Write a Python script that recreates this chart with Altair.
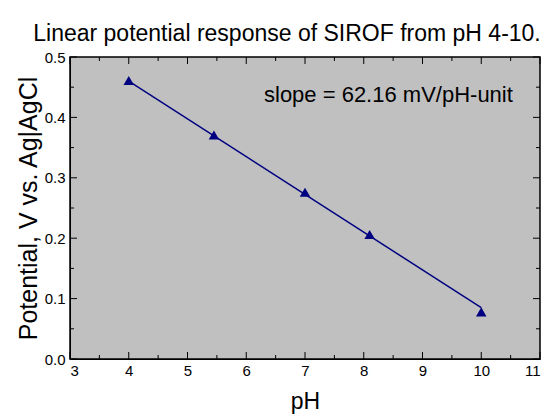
import altair as alt
import pandas as pd

# data
ph = [4.0, 5.45, 7.0, 8.1, 10.0]
potential = [0.461, 0.371, 0.276, 0.206, 0.078]
fit_ph = [4.0, 10.0]
fit_potential = [0.460, 0.085]
x_major = [3, 4, 5, 6, 7, 8, 9, 10, 11]
x_minor = [3.5, 4.5, 5.5, 6.5, 7.5, 8.5, 9.5, 10.5]
y_major = [0.0, 0.1, 0.2, 0.3, 0.4, 0.5]
y_minor = [0.05, 0.15, 0.25, 0.35, 0.45]
note_text = ["slope = 62.16 mV/pH-unit"]
note_x = [8.42]
note_y = [0.437]

W, H = 470, 302
FONT = "Liberation Sans"
NAVY = "#000080"

pts = pd.DataFrame({"pH": ph, "V": potential})
fit = pd.DataFrame({"pH": fit_ph, "V": fit_potential})
xm = pd.DataFrame({"t": x_major})
xn = pd.DataFrame({"t": x_minor})
ym = pd.DataFrame({"t": y_major})
yn = pd.DataFrame({"t": y_minor})
note = pd.DataFrame({"pH": note_x, "V": note_y, "text": note_text})

xscale = alt.Scale(domain=[3, 11], nice=False, zero=False)
yscale = alt.Scale(domain=[0, 0.5], nice=False, zero=False)

xaxis = alt.Axis(values=x_major, format="d", grid=False, ticks=False,
                 domainColor="black", labelColor="black", labelFont=FONT,
                 labelFontSize=15, labelPadding=4, title="pH",
                 titleFont=FONT, titleFontSize=23, titleFontWeight="normal",
                 titleColor="black", titlePadding=12)
yaxis = alt.Axis(values=y_major, format=".1f", grid=False, ticks=False,
                 domainColor="black", labelColor="black", labelFont=FONT,
                 labelFontSize=15, labelPadding=5,
                 title="Potential, V vs. Ag|AgCl",
                 titleFont=FONT, titleFontSize=25, titleFontWeight="normal",
                 titleColor="black", titlePadding=3)

line = alt.Chart(fit).mark_line(color=NAVY, strokeWidth=1.5).encode(
    x=alt.X("pH:Q", scale=xscale, axis=xaxis),
    y=alt.Y("V:Q", scale=yscale, axis=yaxis),
)
points = alt.Chart(pts).mark_point(shape="triangle-up", filled=True, color=NAVY,
                                   opacity=1, size=110).encode(
    x=alt.X("pH:Q", scale=xscale),
    y=alt.Y("V:Q", scale=yscale),
)
text = alt.Chart(note).mark_text(font=FONT, fontSize=22, color="black").encode(
    x=alt.X("pH:Q", scale=xscale),
    y=alt.Y("V:Q", scale=yscale),
    text="text:N",
)


def xticks(df, length):
    b = alt.Chart(df).mark_rule(color="black", strokeWidth=1).encode(
        x=alt.X("t:Q", scale=xscale), y=alt.value(H), y2=alt.value(H - length))
    t = alt.Chart(df).mark_rule(color="black", strokeWidth=1).encode(
        x=alt.X("t:Q", scale=xscale), y=alt.value(0), y2=alt.value(length))
    return b + t


def yticks(df, length):
    l = alt.Chart(df).mark_rule(color="black", strokeWidth=1).encode(
        y=alt.Y("t:Q", scale=yscale), x=alt.value(0), x2=alt.value(length))
    r = alt.Chart(df).mark_rule(color="black", strokeWidth=1).encode(
        y=alt.Y("t:Q", scale=yscale), x=alt.value(W), x2=alt.value(W - length))
    return l + r


chart = alt.layer(
    line, points, text,
    xticks(xm, 7), xticks(xn, 4), yticks(ym, 7), yticks(yn, 4),
).properties(
    width=W, height=H,
    padding={"top": 15, "left": 8, "right": 5, "bottom": 5},
    title=alt.Title("Linear potential response of SIROF from pH 4-10.",
                    font=FONT, fontSize=23, fontWeight="normal", color="black",
                    anchor="middle", offset=4, dx=-18),
).configure_view(
    fill="#c0c0c0", stroke="black", strokeWidth=1.5,
)

chart.save("out.html", embed_options={"renderer": "svg", "actions": False})
